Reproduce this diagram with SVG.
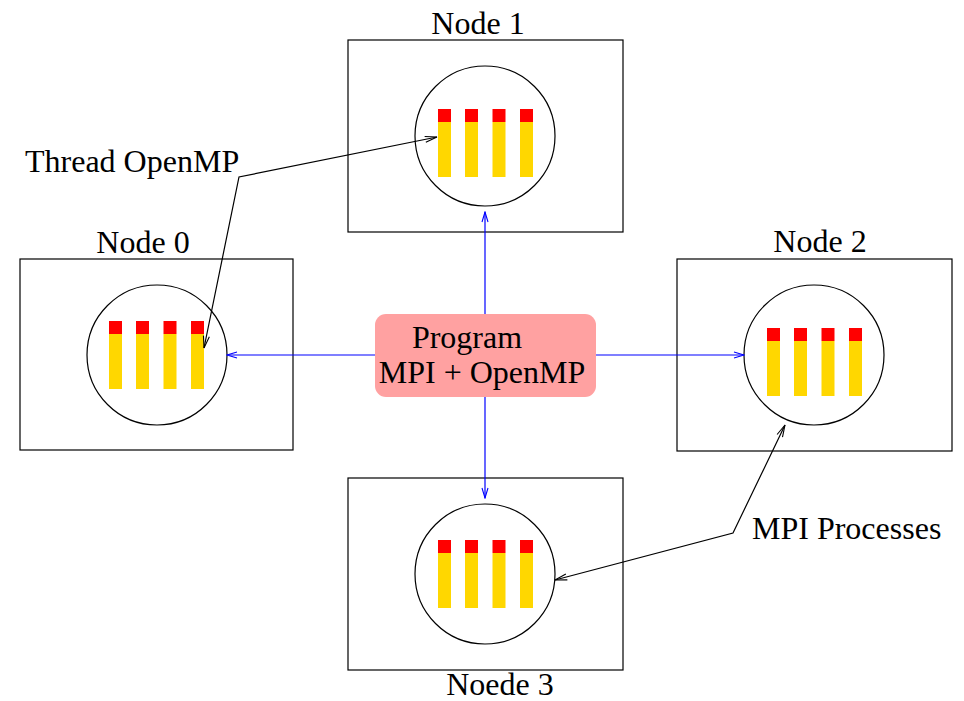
<svg xmlns="http://www.w3.org/2000/svg" width="964" height="701" viewBox="0 0 964 701">
<style>
.box{fill:none;stroke:#000;stroke-width:1.2}
.cpu{fill:none;stroke:#000;stroke-width:1.2}
.r{fill:#ff0000}
.y{fill:#ffd700}
text{font-family:"Liberation Serif","Times New Roman",serif;font-size:32px;fill:#000}
.blue{fill:none;stroke:#0000ff;stroke-width:1.2}
.blk{fill:none;stroke:#000;stroke-width:1.2}
</style>
<defs>
<marker id="ab" viewBox="0 0 12 8" refX="11" refY="4" markerWidth="12" markerHeight="8" markerUnits="userSpaceOnUse" orient="auto-start-reverse">
<path d="M1,1 L11,4 L1,7" fill="none" stroke="#0000ff" stroke-width="1.1"/>
</marker>
<marker id="ak" viewBox="0 0 14 8" refX="13" refY="4" markerWidth="14" markerHeight="8" markerUnits="userSpaceOnUse" orient="auto-start-reverse">
<path d="M1,1 L13,4 L1,7" fill="none" stroke="#000" stroke-width="1.1"/>
</marker>
<g id="bars">
<rect class="y" x="0" y="13" width="13" height="55"/><rect class="r" x="0" y="0" width="13" height="13"/>
<rect class="y" x="27" y="13" width="13" height="55"/><rect class="r" x="27" y="0" width="13" height="13"/>
<rect class="y" x="54.5" y="13" width="13" height="55"/><rect class="r" x="54.5" y="0" width="13" height="13"/>
<rect class="y" x="82" y="13" width="13" height="55"/><rect class="r" x="82" y="0" width="13" height="13"/>
</g>
</defs>
<g id="node0">
<rect class="box" x="20" y="259" width="273" height="191"/>
<circle class="cpu" cx="157" cy="355" r="70"/>
<use href="#bars" x="109" y="321"/>
<text x="143" y="253" text-anchor="middle">Node 0</text>
</g>
<g id="node1">
<rect class="box" x="348" y="40" width="275" height="192"/>
<circle class="cpu" cx="485" cy="136" r="70"/>
<use href="#bars" x="438" y="109"/>
<text x="478" y="34" text-anchor="middle">Node 1</text>
</g>
<g id="node2">
<rect class="box" x="677" y="259" width="275" height="192"/>
<circle class="cpu" cx="814" cy="355" r="70"/>
<use href="#bars" x="767" y="328"/>
<text x="820" y="252" text-anchor="middle">Node 2</text>
</g>
<g id="node3">
<rect class="box" x="348" y="478" width="275" height="192"/>
<circle class="cpu" cx="485" cy="574" r="70"/>
<use href="#bars" x="438" y="540"/>
<text x="500" y="695" text-anchor="middle">Noede 3</text>
</g>
<g id="connectors">
<line class="blue" x1="485" y1="314" x2="485" y2="212" marker-end="url(#ab)"/>
<line class="blue" x1="485" y1="397" x2="485" y2="498" marker-end="url(#ab)"/>
<line class="blue" x1="375" y1="355" x2="227" y2="355" marker-end="url(#ab)"/>
<line class="blue" x1="596" y1="355" x2="744" y2="355" marker-end="url(#ab)"/>
<polyline class="blk" points="204,348 239,177 437,137" marker-start="url(#ak)" marker-end="url(#ak)"/>
<polyline class="blk" points="785,425 733,533 555,580" marker-start="url(#ak)" marker-end="url(#ak)"/>
</g>
<g id="program">
<rect x="375" y="314" width="221" height="83" rx="11" fill="#ffa1a1"/>
<text x="467" y="348" text-anchor="middle">Program</text>
<text x="482" y="383" text-anchor="middle">MPI + OpenMP</text>
</g>
<g id="labels">
<text x="25" y="172">Thread OpenMP</text>
<text x="752" y="539">MPI Processes</text>
</g>
</svg>
